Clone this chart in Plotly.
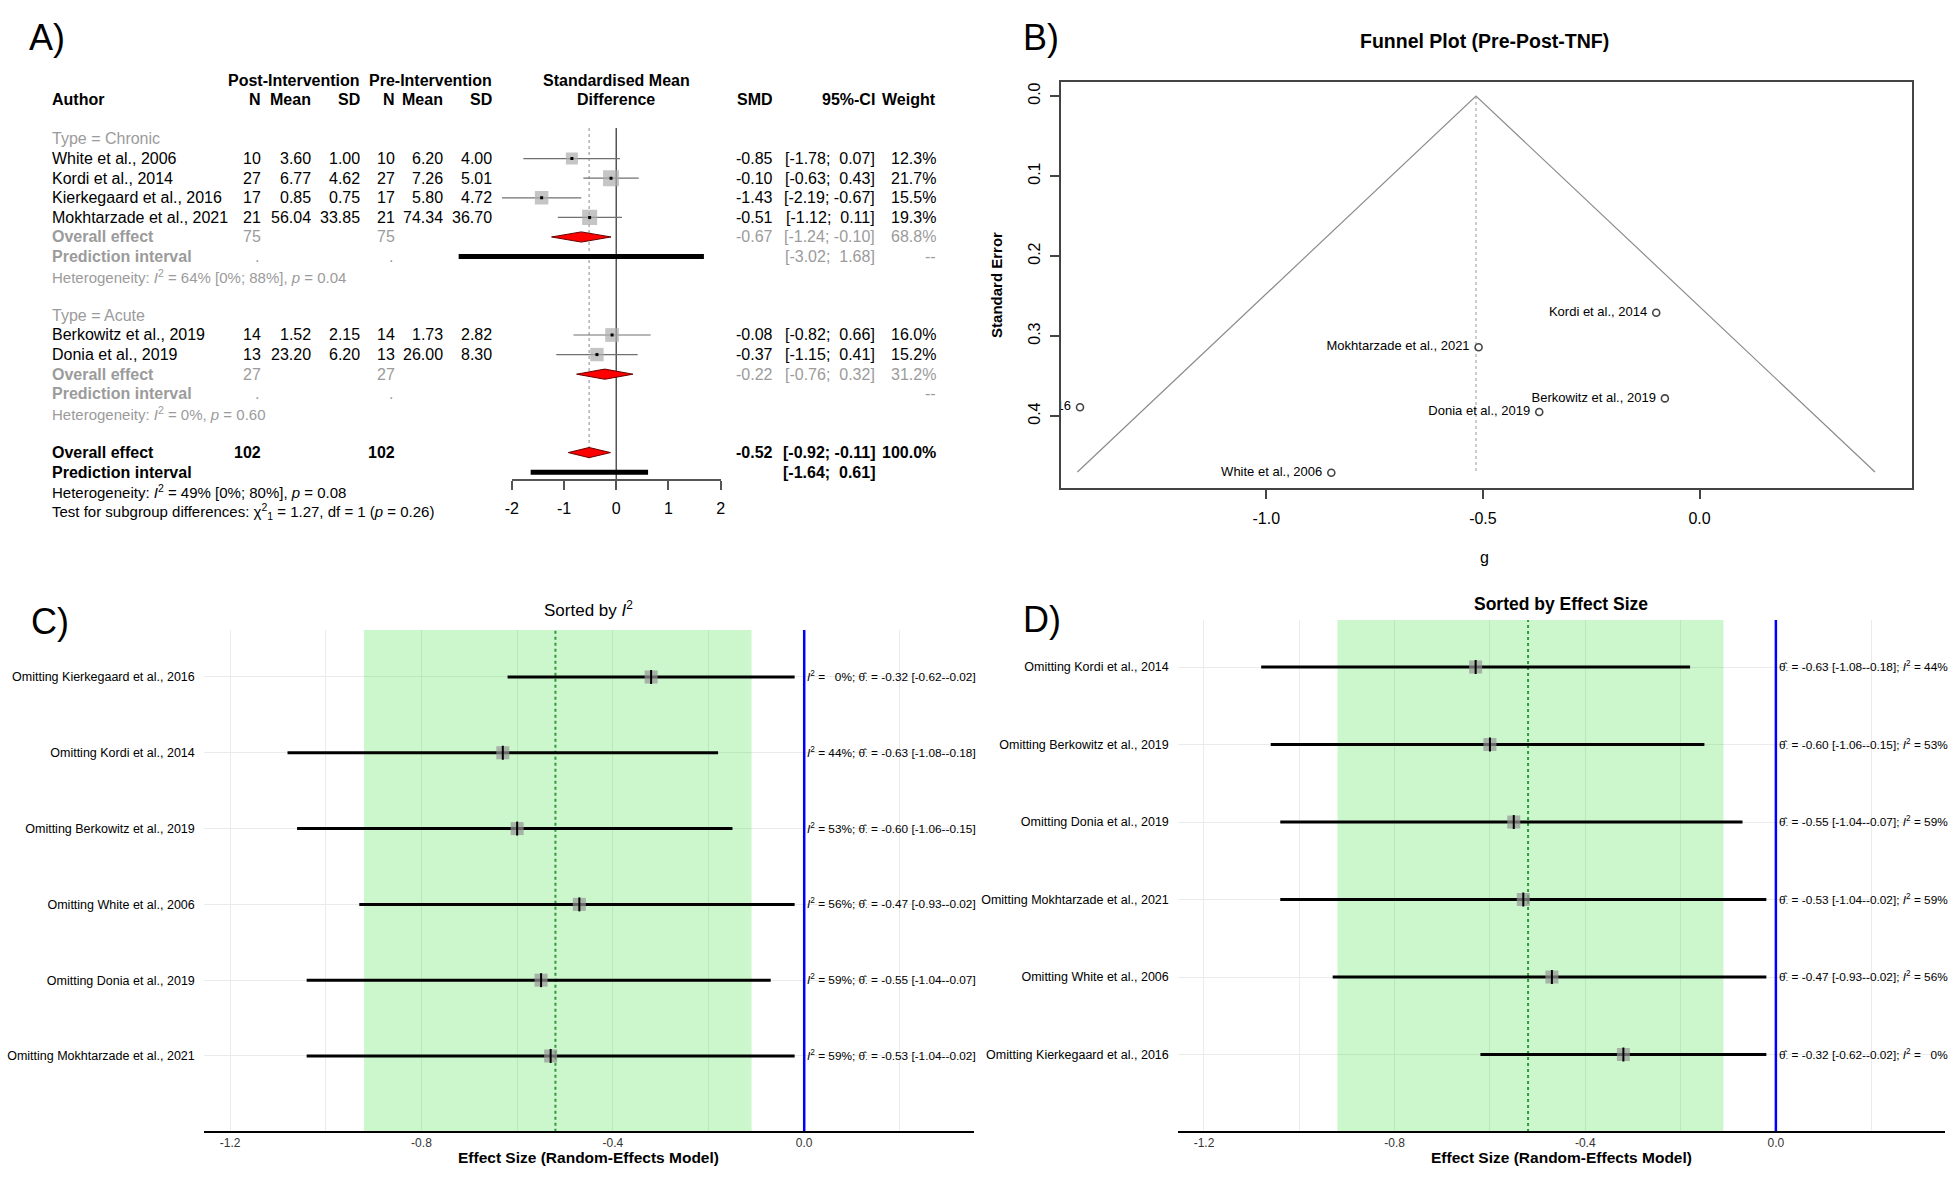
import plotly.graph_objects as go

W, H = 1960, 1178
def px(v): return v / W
def py(v): return 1 - v / H

FONT = "Liberation Sans, Arial, Helvetica, sans-serif"
GREY_TXT = "#9b9b9b"
NB = "\u00a0"

# ---------------- Panel A data ----------------
chronic_authors = ["White et al., 2006", "Kordi et al., 2014", "Kierkegaard et al., 2016", "Mokhtarzade et al., 2021"]
chronic_n_post = [10, 27, 17, 21]
chronic_mean_post = [3.60, 6.77, 0.85, 56.04]
chronic_sd_post = [1.00, 4.62, 0.75, 33.85]
chronic_n_pre = [10, 27, 17, 21]
chronic_mean_pre = [6.20, 7.26, 5.80, 74.34]
chronic_sd_pre = [4.00, 5.01, 4.72, 36.70]
chronic_smd = [-0.85, -0.10, -1.43, -0.51]
chronic_lo = [-1.78, -0.63, -2.19, -1.12]
chronic_hi = [0.07, 0.43, -0.67, 0.11]
chronic_weight = [12.3, 21.7, 15.5, 19.3]

acute_authors = ["Berkowitz et al., 2019", "Donia et al., 2019"]
acute_n_post = [14, 13]
acute_mean_post = [1.52, 23.20]
acute_sd_post = [2.15, 6.20]
acute_n_pre = [14, 13]
acute_mean_pre = [1.73, 26.00]
acute_sd_pre = [2.82, 8.30]
acute_smd = [-0.08, -0.37]
acute_lo = [-0.82, -1.15]
acute_hi = [0.66, 0.41]
acute_weight = [16.0, 15.2]

# [estimate, lower, upper, weight]
chronic_summary = [-0.67, -1.24, -0.10, 68.8]
acute_summary = [-0.22, -0.76, 0.32, 31.2]
overall_summary = [-0.52, -0.92, -0.11, 100.0]
chronic_pred = [-3.02, 1.68]
overall_pred = [-1.64, 0.61]
chronic_total_n = 75
acute_total_n = 27
overall_total_n = 102
het_chronic = "Heterogeneity: <i>I</i><sup>2</sup> = 64% [0%; 88%], <i>p</i> = 0.04"
het_acute = "Heterogeneity: <i>I</i><sup>2</sup> = 0%, <i>p</i> = 0.60"
het_overall = "Heterogeneity: <i>I</i><sup>2</sup> = 49% [0%; 80%], <i>p</i> = 0.08"
test_subgroup = "Test for subgroup differences: χ<sup>2</sup><sub>1</sub> = 1.27, df = 1 (<i>p</i> = 0.26)"
forest_ticks = [-2, -1, 0, 1, 2]

# ---------------- Panel B data ----------------
funnel_names = chronic_authors + acute_authors
funnel_g = chronic_smd + acute_smd
funnel_se = [0.471, 0.271, 0.389, 0.314, 0.378, 0.395]
funnel_x = [-1.436, -0.516, 0.405]
funnel_y = [0.47, 0.0, 0.47]
funnel_xticks = [-1.0, -0.5, 0.0]
funnel_yticks = [0.0, 0.1, 0.2, 0.3, 0.4]

# ---------------- Panel C / D data ----------------
loo_names = ["Kierkegaard et al., 2016", "Kordi et al., 2014", "Berkowitz et al., 2019",
             "White et al., 2006", "Donia et al., 2019", "Mokhtarzade et al., 2021"]
loo_est = [-0.32, -0.63, -0.60, -0.47, -0.55, -0.53]
loo_lo = [-0.62, -1.08, -1.06, -0.93, -1.04, -1.04]
loo_hi = [-0.02, -0.18, -0.15, -0.02, -0.07, -0.02]
loo_i2 = [0, 44, 53, 56, 59, 59]
loo_ticks = [-1.2, -0.8, -0.4, 0.0]

fig = go.Figure()
ann = []

# =============== Panel A ===============
def txt(x_px, row, text, anchor="left", color="black", bold=False, size=16, xref="paper"):
    if bold:
        text = f"<b>{text}</b>"
    ann.append(dict(xref=xref, yref="y", x=px(x_px) if xref == "paper" else x_px, y=row,
                    text=text, xanchor=anchor, yanchor="middle", showarrow=False,
                    font=dict(family=FONT, size=size, color=color)))

COL = dict(author=43, n1=258, m1=308, s1=357, n2=392, m2=441, s2=490, smd=773, ci=875, w=937)

def ci_text(lo, hi):
    pad = NB + NB if hi >= 0 else NB
    return f"[{lo:.2f};{pad}{hi:.2f}]"

txt(COL["s1"], -3, "Post-Intervention", "right", bold=True)
txt(COL["s2"], -3, "Pre-Intervention", "right", bold=True)
txt(0, -3, "Standardised Mean", "center", bold=True, xref="x")
txt(COL["author"], -2, "Author", bold=True)
for k, lab in [("n1", "N"), ("m1", "Mean"), ("s1", "SD"), ("n2", "N"), ("m2", "Mean"), ("s2", "SD"),
               ("smd", "SMD"), ("ci", "95%-CI"), ("w", "Weight")]:
    txt(COL[k], -2, lab, "right", bold=True)
txt(0, -2, "Difference", "center", bold=True, xref="x")

def study_rows(start, authors, n1, m1, s1, n2, m2, s2, smd, lo, hi, wt):
    rows = []
    for i in range(len(authors)):
        r = start + i
        rows.append(r)
        txt(COL["author"], r, authors[i])
        txt(COL["n1"], r, str(n1[i]), "right")
        txt(COL["m1"], r, f"{m1[i]:.2f}", "right")
        txt(COL["s1"], r, f"{s1[i]:.2f}", "right")
        txt(COL["n2"], r, str(n2[i]), "right")
        txt(COL["m2"], r, f"{m2[i]:.2f}", "right")
        txt(COL["s2"], r, f"{s2[i]:.2f}", "right")
        txt(COL["smd"], r, f"{smd[i]:.2f}", "right")
        txt(COL["ci"], r, ci_text(lo[i], hi[i]), "right")
        txt(COL["w"], r, f"{wt[i]:.1f}%", "right")
    return rows

txt(COL["author"], 0, "Type = Chronic", color=GREY_TXT)
chronic_rows = study_rows(1, chronic_authors, chronic_n_post, chronic_mean_post, chronic_sd_post,
                          chronic_n_pre, chronic_mean_pre, chronic_sd_pre, chronic_smd, chronic_lo,
                          chronic_hi, chronic_weight)
txt(COL["author"], 5, "Overall effect", color=GREY_TXT, bold=True)
txt(COL["n1"], 5, str(chronic_total_n), "right", color=GREY_TXT)
txt(COL["n2"], 5, str(chronic_total_n), "right", color=GREY_TXT)
txt(COL["smd"], 5, f"{chronic_summary[0]:.2f}", "right", color=GREY_TXT)
txt(COL["ci"], 5, ci_text(chronic_summary[1], chronic_summary[2]), "right", color=GREY_TXT)
txt(COL["w"], 5, f"{chronic_summary[3]:.1f}%", "right", color=GREY_TXT)
txt(COL["author"], 6, "Prediction interval", color=GREY_TXT, bold=True)
txt(COL["n1"] - 2, 6, ".", "right", color=GREY_TXT)
txt(COL["n2"] - 2, 6, ".", "right", color=GREY_TXT)
txt(COL["ci"], 6, ci_text(*chronic_pred), "right", color=GREY_TXT)
txt(COL["w"], 6, "--", "right", color=GREY_TXT)
txt(COL["author"], 7, het_chronic, color=GREY_TXT, size=15)

txt(COL["author"], 9, "Type = Acute", color=GREY_TXT)
acute_rows = study_rows(10, acute_authors, acute_n_post, acute_mean_post, acute_sd_post,
                        acute_n_pre, acute_mean_pre, acute_sd_pre, acute_smd, acute_lo,
                        acute_hi, acute_weight)
txt(COL["author"], 12, "Overall effect", color=GREY_TXT, bold=True)
txt(COL["n1"], 12, str(acute_total_n), "right", color=GREY_TXT)
txt(COL["n2"], 12, str(acute_total_n), "right", color=GREY_TXT)
txt(COL["smd"], 12, f"{acute_summary[0]:.2f}", "right", color=GREY_TXT)
txt(COL["ci"], 12, ci_text(acute_summary[1], acute_summary[2]), "right", color=GREY_TXT)
txt(COL["w"], 12, f"{acute_summary[3]:.1f}%", "right", color=GREY_TXT)
txt(COL["author"], 13, "Prediction interval", color=GREY_TXT, bold=True)
txt(COL["n1"] - 2, 13, ".", "right", color=GREY_TXT)
txt(COL["n2"] - 2, 13, ".", "right", color=GREY_TXT)
txt(COL["w"], 13, "--", "right", color=GREY_TXT)
txt(COL["author"], 14, het_acute, color=GREY_TXT, size=15)

txt(COL["author"], 16, "Overall effect", bold=True)
txt(COL["n1"], 16, str(overall_total_n), "right", bold=True)
txt(COL["n2"], 16, str(overall_total_n), "right", bold=True)
txt(COL["smd"], 16, f"{overall_summary[0]:.2f}", "right", bold=True)
txt(COL["ci"], 16, ci_text(overall_summary[1], overall_summary[2]), "right", bold=True)
txt(COL["w"], 16, f"{overall_summary[3]:.1f}%", "right", bold=True)
txt(COL["author"], 17, "Prediction interval", bold=True)
txt(COL["ci"], 17, ci_text(*overall_pred), "right", bold=True)
txt(COL["author"], 18, het_overall, size=15)
txt(COL["author"], 19, test_subgroup, size=15)

all_rows = chronic_rows + acute_rows
all_smd = chronic_smd + acute_smd
all_lo = chronic_lo + acute_lo
all_hi = chronic_hi + acute_hi
all_w = chronic_weight + acute_weight

fig.add_trace(go.Scatter(x=[0, 0], y=[-0.56, 17.4], mode="lines", line=dict(color="#555555", width=1.5),
                         xaxis="x", yaxis="y", hoverinfo="skip", showlegend=False))
fig.add_trace(go.Scatter(x=[overall_summary[0]] * 2, y=[-0.56, 16.3], mode="lines",
                         line=dict(color="#8a8a8a", width=1, dash="dot"),
                         xaxis="x", yaxis="y", hoverinfo="skip", showlegend=False))
ci_x, ci_y = [], []
for r, lo, hi in zip(all_rows, all_lo, all_hi):
    ci_x += [lo, hi, None]
    ci_y += [r, r, None]
fig.add_trace(go.Scatter(x=ci_x, y=ci_y, mode="lines", line=dict(color="#707070", width=1.2),
                         xaxis="x", yaxis="y", hoverinfo="skip", showlegend=False))
fig.add_trace(go.Scatter(x=all_smd, y=all_rows, mode="markers",
                         marker=dict(symbol="square", size=[3.43 * w ** 0.5 for w in all_w],
                                     color="#adadad", line=dict(width=0)),
                         xaxis="x", yaxis="y", hoverinfo="skip", showlegend=False))
fig.add_trace(go.Scatter(x=all_smd, y=all_rows, mode="markers",
                         marker=dict(symbol="square", size=3, color="black"),
                         xaxis="x", yaxis="y", hoverinfo="skip", showlegend=False))
DH = 0.26
for r, s in [(5, chronic_summary), (12, acute_summary), (16, overall_summary)]:
    est, lo, hi = s[0], s[1], s[2]
    fig.add_trace(go.Scatter(x=[lo, est, hi, est, lo], y=[r, r - DH, r, r + DH, r], mode="lines",
                             fill="toself", fillcolor="#ff0000", line=dict(color="#6b0000", width=1),
                             xaxis="x", yaxis="y", hoverinfo="skip", showlegend=False))
for r, p in [(6, chronic_pred), (17, overall_pred)]:
    fig.add_trace(go.Scatter(x=p, y=[r, r], mode="lines", line=dict(color="black", width=5),
                             xaxis="x", yaxis="y", hoverinfo="skip", showlegend=False))
fig.add_trace(go.Scatter(x=[0], y=[0], mode="markers", marker=dict(opacity=0), xaxis="x2", yaxis="y",
                         hoverinfo="skip", showlegend=False))

# =============== Panel B ===============
fig.add_trace(go.Scatter(x=funnel_x, y=funnel_y, mode="lines", line=dict(color="#8c8c8c", width=1.2),
                         xaxis="x3", yaxis="y3", hoverinfo="skip", showlegend=False))
fig.add_trace(go.Scatter(x=[funnel_x[1]] * 2, y=[funnel_y[1], funnel_y[0]], mode="lines",
                         line=dict(color="#9a9a9a", width=1, dash="dot"),
                         xaxis="x3", yaxis="y3", hoverinfo="skip", showlegend=False))
fig.add_trace(go.Scatter(x=funnel_g, y=funnel_se, mode="markers+text",
                         text=[n + NB for n in funnel_names],
                         textposition="middle left", cliponaxis=True,
                         textfont=dict(family=FONT, size=13, color="black"),
                         marker=dict(symbol="circle-open", size=7, color="#444444", line=dict(width=1.6)),
                         xaxis="x3", yaxis="y3", hoverinfo="skip", showlegend=False))

# =============== Panels C and D ===============
idx_c = sorted(range(len(loo_names)), key=lambda i: loo_i2[i])
idx_d = sorted(range(len(loo_names)), key=lambda i: loo_est[i])

def loo_panel(order, xa, ya, label_fmt):
    n = len(order)
    pos = [n - k for k in range(n)]
    est = [loo_est[i] for i in order]
    fig.add_trace(go.Scatter(x=[overall_summary[1], overall_summary[2], overall_summary[2], overall_summary[1]],
                             y=[0, 0, 10, 10], mode="lines", fill="toself", fillcolor="rgba(0,215,0,0.2)",
                             line=dict(width=0), xaxis=xa, yaxis=ya, hoverinfo="skip", showlegend=False))
    fig.add_trace(go.Scatter(x=[overall_summary[0]] * 2, y=[0, 10], mode="lines",
                             line=dict(color="#2f9a3c", width=2, dash="dot"),
                             xaxis=xa, yaxis=ya, hoverinfo="skip", showlegend=False))
    lx, ly = [], []
    for k, i in enumerate(order):
        lx += [loo_lo[i], loo_hi[i], None]
        ly += [pos[k], pos[k], None]
    fig.add_trace(go.Scatter(x=lx, y=ly, mode="lines", line=dict(color="black", width=3),
                             xaxis=xa, yaxis=ya, hoverinfo="skip", showlegend=False))
    fig.add_trace(go.Scatter(x=est, y=pos, mode="markers",
                             marker=dict(symbol="square", size=13, color="rgba(150,150,150,0.7)", line=dict(width=0)),
                             xaxis=xa, yaxis=ya, hoverinfo="skip", showlegend=False))
    fig.add_trace(go.Scatter(x=est, y=pos, mode="markers",
                             marker=dict(symbol="line-ns", size=10, line=dict(width=2, color="black")),
                             xaxis=xa, yaxis=ya, hoverinfo="skip", showlegend=False))
    fig.add_trace(go.Scatter(x=[0, 0], y=[0, 10], mode="lines", line=dict(color="#0000ff", width=2.5),
                             xaxis=xa, yaxis=ya, hoverinfo="skip", showlegend=False))
    for k, i in enumerate(order):
        ann.append(dict(xref=xa, yref=ya, x=0, y=pos[k], xanchor="left", yanchor="middle", xshift=1,
                        showarrow=False, text=label_fmt(i),
                        font=dict(family=FONT, size=11.8, color="black")))
    return pos, ["Omitting " + loo_names[i] for i in order]

def i2_txt(i):
    v = f"{loo_i2[i]:2d}".replace(" ", NB + NB)
    return f"<i>I</i><sup>2</sup> = {v}%"

def th_txt(i):
    return f"θ̂<sub>·</sub> = {loo_est[i]:.2f} [{loo_lo[i]:.2f}-{loo_hi[i]:.2f}]"

pos_c, lab_c = loo_panel(idx_c, "x4", "y4", lambda i: f"{i2_txt(i)}; {th_txt(i)}")
pos_d, lab_d = loo_panel(idx_d, "x5", "y5", lambda i: f"{th_txt(i)}; {i2_txt(i)}")

def ptxt(x, y, text, size, anchor="left", bold=False, angle=0):
    if bold:
        text = f"<b>{text}</b>"
    ann.append(dict(xref="paper", yref="paper", x=px(x), y=py(y), text=text, xanchor=anchor,
                    yanchor="middle", showarrow=False, textangle=angle,
                    font=dict(family=FONT, size=size, color="black")))

ptxt(20, 37, "A)", 36)
ptxt(1020, 37, "B)", 36)
ptxt(22, 621, "C)", 36)
ptxt(1020, 619, "D)", 36)
ptxt(1487, 41, "Funnel Plot (Pre-Post-TNF)", 19.5, "center", bold=True)
ptxt(995, 285, "Standard Error", 15, "center", bold=True, angle=-90)
ptxt(1487, 557, "g", 16, "center")
ptxt(585, 609, "Sorted by <i>I</i><sup>2</sup>", 17, "center")
ptxt(1564, 604, "Sorted by Effect Size", 17.5, "center", bold=True)
ptxt(585, 1157, "Effect Size (Random-Effects Model)", 15.5, "center", bold=True)
ptxt(1564, 1157, "Effect Size (Random-Effects Model)", 15.5, "center", bold=True)

loo_x_common = dict(range=[-1.255, 0.355], tickvals=loo_ticks, ticktext=[f"{t:.1f}" for t in loo_ticks],
                    showgrid=True, gridcolor="#ebebeb", gridwidth=1, zeroline=False,
                    showline=True, linecolor="black", linewidth=2, ticks="",
                    tickfont=dict(family=FONT, size=12, color="#333333"),
                    minor=dict(dtick=0.2, tick0=0, showgrid=True, gridcolor="#ebebeb", gridwidth=1))
loo_y_common = dict(showgrid=True, gridcolor="#ebebeb", zeroline=False, ticks="", showline=False,
                    ticklabelstandoff=8, tickfont=dict(family=FONT, size=12.5, color="black"))

fig.update_layout(
    width=W, height=H, margin=dict(l=0, r=0, t=0, b=0),
    paper_bgcolor="white", plot_bgcolor="rgba(0,0,0,0)",
    annotations=ann,
    xaxis=dict(domain=[px(400), px(780)], range=[(400 - 613) / 52.5, (780 - 613) / 52.5],
               visible=False, anchor="y"),
    yaxis=dict(domain=[py(530), py(60)], range=[19.95, -4.03], visible=False, anchor="x"),
    xaxis2=dict(domain=[px(508), px(718)], range=[-2, 2], anchor="free", position=py(480),
                showline=True, linecolor="#555555", linewidth=1.5, ticks="outside", ticklen=9,
                tickcolor="#555555", tickwidth=1.5, tickvals=forest_ticks,
                ticktext=[str(t) for t in forest_ticks], ticklabelstandoff=5,
                tickfont=dict(family=FONT, size=16, color="black"), showgrid=False, zeroline=False),
    xaxis3=dict(domain=[px(1060), px(1917)], range=[-1.475, 0.491], anchor="y3",
                showline=True, mirror=True, linecolor="#444444", linewidth=1.5, ticks="outside",
                ticklen=9, tickcolor="#444444", tickwidth=1.5, tickvals=funnel_xticks,
                ticktext=[f"{t:.1f}" for t in funnel_xticks], ticklabelstandoff=6,
                tickfont=dict(family=FONT, size=16, color="black"), showgrid=False, zeroline=False),
    yaxis3=dict(domain=[py(488), py(82)], range=[0.49, -0.0175], anchor="x3",
                showline=True, mirror=True, linecolor="#444444", linewidth=1.5, ticks="outside",
                ticklen=9, tickcolor="#444444", tickwidth=1.5, tickvals=funnel_yticks,
                ticktext=[f"{t:.1f}" for t in funnel_yticks], tickangle=-90, ticklabelstandoff=3,
                tickfont=dict(family=FONT, size=16, color="black"), showgrid=False, zeroline=False),
    xaxis4=dict(domain=[px(198), px(973)], anchor="y4", **loo_x_common),
    yaxis4=dict(domain=[py(1131), py(630)], range=[0.01, 6.62], anchor="x4",
                tickvals=pos_c, ticktext=lab_c, **loo_y_common),
    xaxis5=dict(domain=[px(1178), px(1950)], anchor="y5", **loo_x_common),
    yaxis5=dict(domain=[py(1131), py(620)], range=[0.013, 6.607], anchor="x5",
                tickvals=pos_d, ticktext=lab_d, **loo_y_common),
)

fig.write_html("out.html", config={"displayModeBar": False},
               post_script="document.body.style.margin='0';")
